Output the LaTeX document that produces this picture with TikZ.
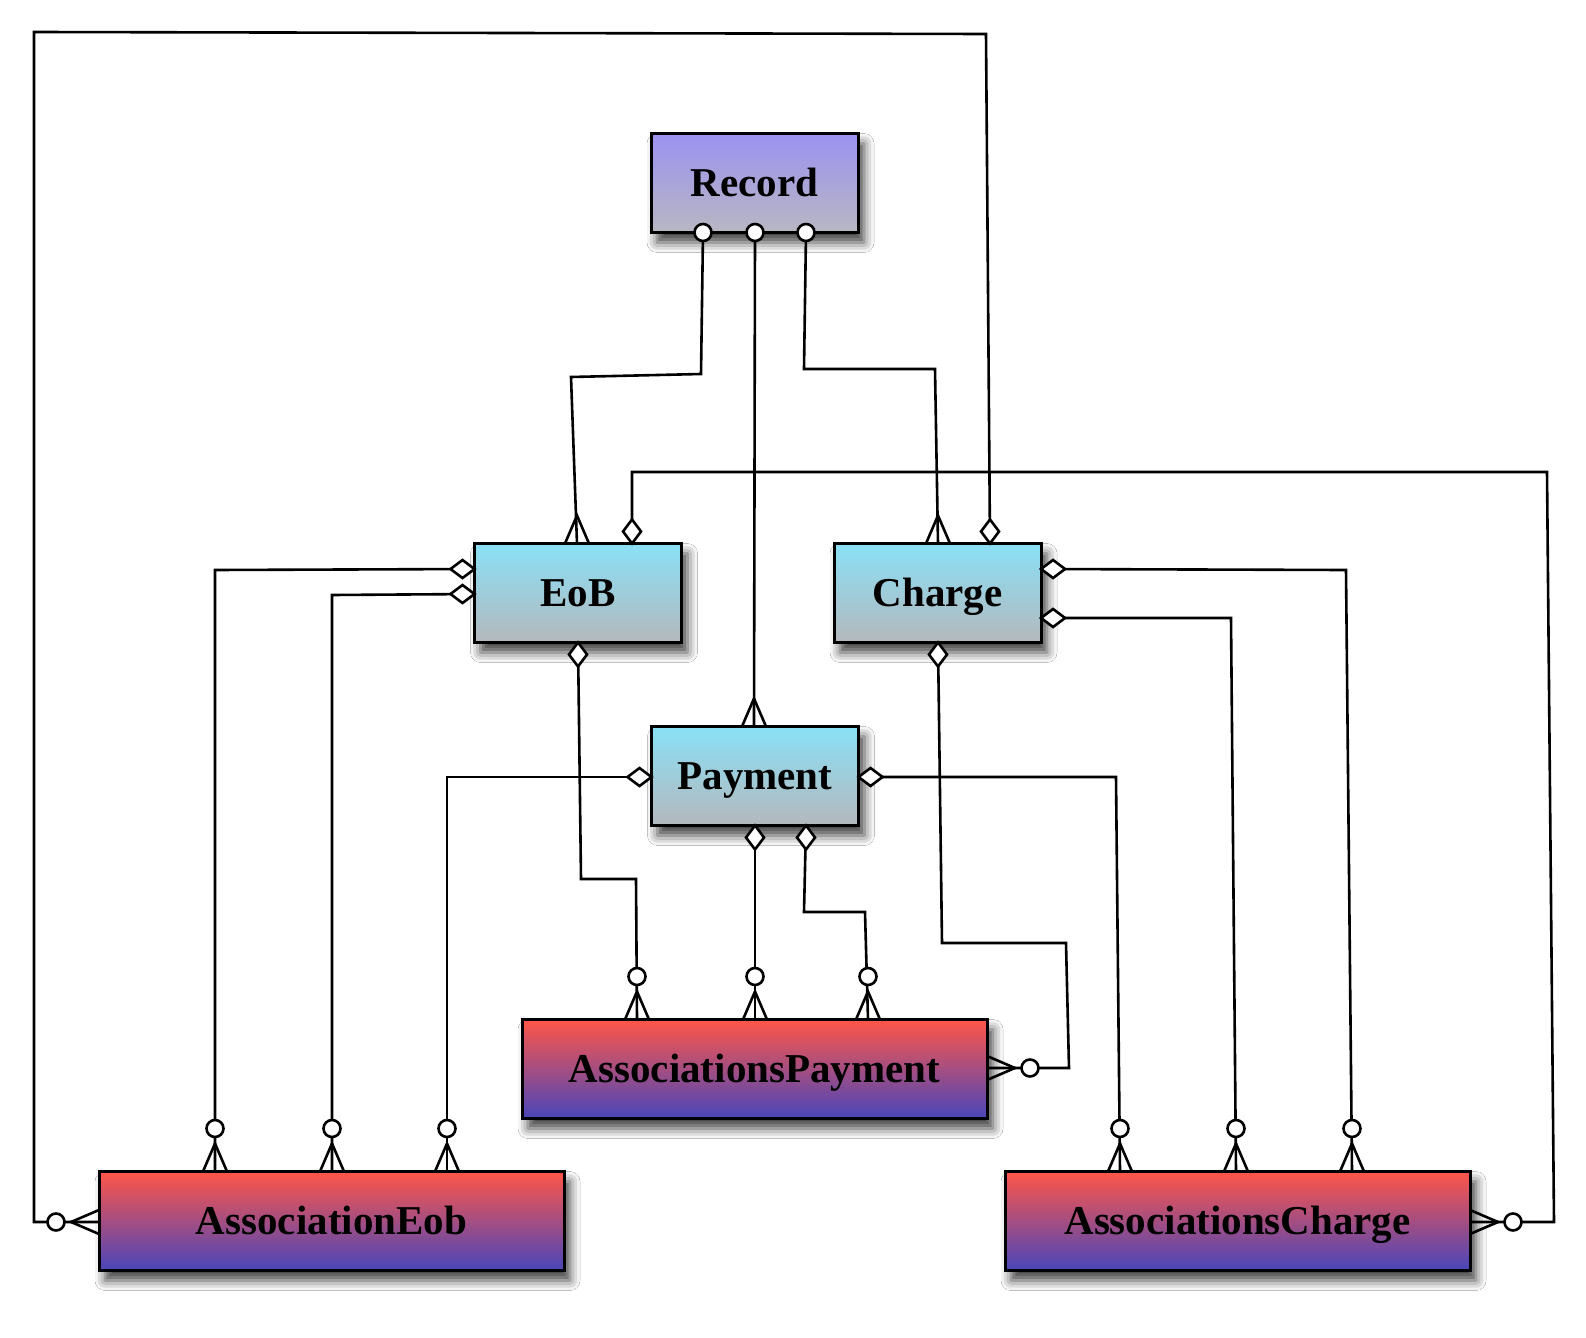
\documentclass[tikz,border=0pt]{standalone}
\usepackage{fontspec}
\setmainfont{Liberation Serif}
\usetikzlibrary{shadows.blur,calc}
\definecolor{recTop}{RGB}{155,146,240}
\definecolor{recBot}{RGB}{184,183,194}
\definecolor{cyTop}{RGB}{138,224,246}
\definecolor{cyBot}{RGB}{180,184,188}
\definecolor{rdTop}{RGB}{255,86,72}
\definecolor{rdBot}{RGB}{72,70,186}
\tikzset{
  ent/.style={draw=black, line width=1.5pt, inner sep=0pt, outer sep=0pt,
    minimum height=49.5pt, text height=13.3pt, text depth=0pt,
    font=\bfseries\fontsize{20.5}{24}\selectfont,
    blur shadow={shadow xshift=3pt, shadow yshift=-5pt, shadow blur radius=5pt, shadow opacity=75}},
  recbox/.style={ent, minimum width=103.5pt, top color=recTop, bottom color=recBot},
  cybox/.style={ent, minimum width=103.5pt, top color=cyTop, bottom color=cyBot},
  rdbox/.style={ent, minimum width=232.5pt, top color=rdTop, bottom color=rdBot},
  conn/.style={line width=1.3pt, line join=miter, draw=black},
  pics/onecirc/.style={code={\draw[conn,fill=white] (0,0) circle[radius=8.5];}},
  pics/dia/.style={code={\draw[conn,fill=white] (0,0) -- (12,9) -- (24,0) -- (12,-9) -- cycle;}},
  pics/crow/.style={code={\draw[conn] (0,12) -- (28,0) -- (0,-12);}},
  pics/crowcirc/.style={code={\draw[conn] (0,12) -- (28,0) -- (0,-12); \draw[conn,fill=white] (43,0) circle[radius=8.5];}},
}
\begin{document}
\begin{tikzpicture}[x=0.5pt,y=-0.5pt]
\useasboundingbox[fill=white] (0,0) rectangle (1586,1338);
% nodes
\node[recbox] (rec) at (754.5,183) {Record};
\node[cybox] (eob) at (578,593) {EoB};
\node[cybox] (chg) at (937.5,593) {Charge};
\node[cybox] (pay) at (755,776) {Payment};
\node[rdbox] (ap) at (754.5,1069) {AssociationsPayment};
\node[rdbox] (ae) at (331.5,1221) {AssociationEob};
\node[rdbox] (ac) at (1237.5,1221) {AssociationsCharge};
% connectors
\draw[conn] (rec.south -| 703,0) -- (701,374) -- (571,377) -- (eob.north -| 577,0);
\draw[conn] (rec.south -| 755,0) -- (pay.north -| 754,0);
\draw[conn] (rec.south -| 806,0) -- (804,369) -- (935,369) -- (chg.north -| 938,0);
\draw[conn] (chg.north -| 990,0) -- (986,34) -- (34,32) -- (34,1222) -- (ae.west |- 0,1222);
\draw[conn] (eob.north -| 632,0) -- (632,472) -- (1547,472) -- (1554,1222) -- (ac.east |- 0,1222);
\draw[conn] (eob.west |- 0,569) -- (215,570) -- (ae.north -| 215,0);
\draw[conn] (eob.west |- 0,594) -- (332,595) -- (ae.north -| 332,0);
\draw[conn] (pay.west |- 0,777) -- (447,777) -- (ae.north -| 447,0);
\draw[conn] (eob.south -| 578,0) -- (581,879) -- (636,879) -- (ap.north -| 637,0);
\draw[conn] (pay.south -| 755,0) -- (ap.north -| 755,0);
\draw[conn] (pay.south -| 806,0) -- (804,912) -- (865,912) -- (ap.north -| 868,0);
\draw[conn] (chg.south -| 938,0) -- (942,943) -- (1066,943) -- (1069,1068) -- (ap.east |- 0,1068);
\draw[conn] (pay.east |- 0,777) -- (1116,777) -- (ac.north -| 1120,0);
\draw[conn] (chg.east |- 0,569) -- (1346,570) -- (ac.north -| 1352,0);
\draw[conn] (chg.east |- 0,618) -- (1231,618) -- (ac.north -| 1236,0);
% end marks
\pic at (rec.south -| 703,0) {onecirc};
\pic at (rec.south -| 755,0) {onecirc};
\pic at (rec.south -| 806,0) {onecirc};
\pic[rotate=90] at (eob.north -| 577,0) {crow};
\pic[rotate=90] at (pay.north -| 754,0) {crow};
\pic[rotate=90] at (chg.north -| 938,0) {crow};
\pic[rotate=90] at (chg.north -| 990,0) {dia};
\pic[rotate=90] at (eob.north -| 632,0) {dia};
\pic[rotate=180] at (eob.west |- 0,569) {dia};
\pic[rotate=180] at (eob.west |- 0,594) {dia};
\pic[rotate=180] at (pay.west |- 0,777) {dia};
\pic at (pay.east |- 0,777) {dia};
\pic[rotate=-90] at (eob.south -| 578,0) {dia};
\pic[rotate=-90] at (pay.south -| 755,0) {dia};
\pic[rotate=-90] at (pay.south -| 806,0) {dia};
\pic[rotate=-90] at (chg.south -| 938,0) {dia};
\pic at (chg.east |- 0,569) {dia};
\pic at (chg.east |- 0,618) {dia};
\pic[rotate=90] at (ae.north -| 215,0) {crowcirc};
\pic[rotate=90] at (ae.north -| 332,0) {crowcirc};
\pic[rotate=90] at (ae.north -| 447,0) {crowcirc};
\pic[rotate=180] at (ae.west |- 0,1222) {crowcirc};
\pic[rotate=90] at (ap.north -| 637,0) {crowcirc};
\pic[rotate=90] at (ap.north -| 755,0) {crowcirc};
\pic[rotate=90] at (ap.north -| 868,0) {crowcirc};
\pic at (ap.east |- 0,1068) {crowcirc};
\pic[rotate=90] at (ac.north -| 1120,0) {crowcirc};
\pic[rotate=90] at (ac.north -| 1236,0) {crowcirc};
\pic[rotate=90] at (ac.north -| 1352,0) {crowcirc};
\pic at (ac.east |- 0,1222) {crowcirc};
\end{tikzpicture}
\end{document}
